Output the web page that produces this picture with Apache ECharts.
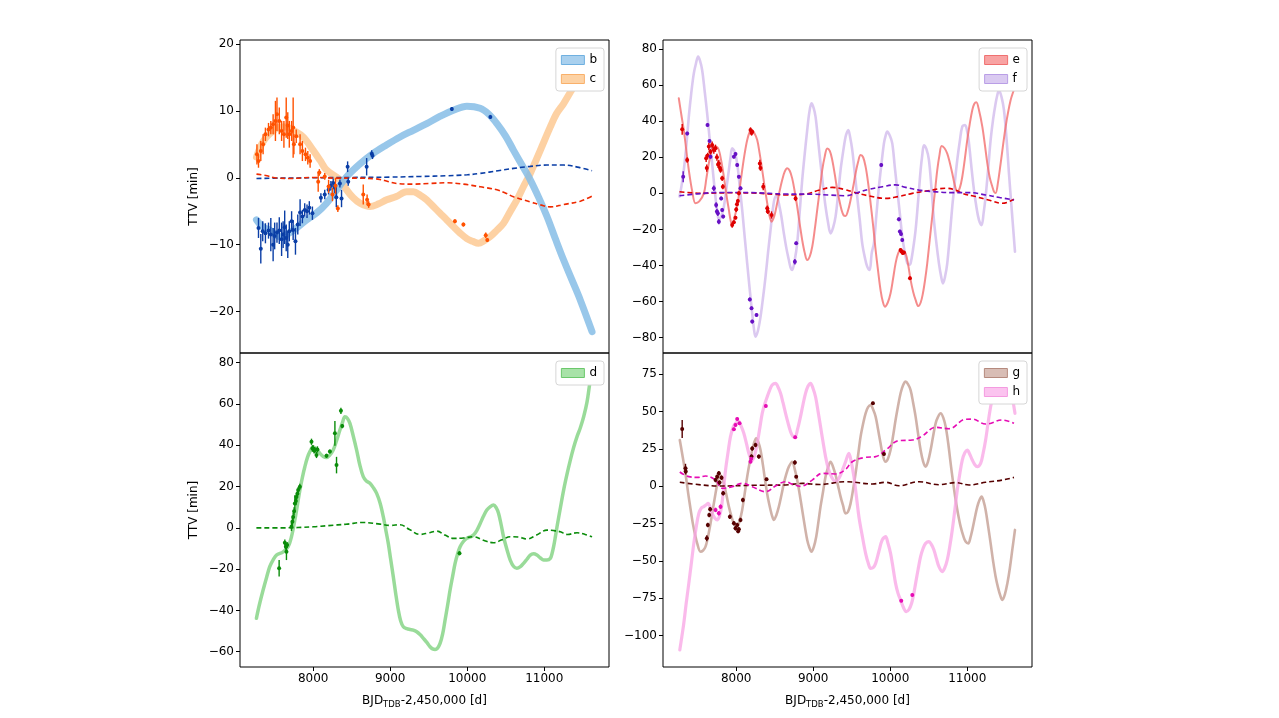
<!DOCTYPE html>
<html><head><meta charset="utf-8">
<script src="https://cdn.jsdelivr.net/npm/echarts@6/dist/echarts.min.js"></script>
<style>html,body{margin:0;padding:0;background:#fff}#c{width:1279px;height:718px}</style>
</head><body><div id="c"></div>
<script>
// ---------- tick labels ----------
const xTicks = [8000, 9000, 10000, 11000];
const yTicksBC = [-20, -10, 0, 10, 20];
const yTicksEF = [-80, -60, -40, -20, 0, 20, 40, 60, 80];
const yTicksD = [-60, -40, -20, 0, 20, 40, 60, 80];
const yTicksGH = [-100, -75, -50, -25, 0, 25, 50, 75];
const legendBC = ['b', 'c'];
const legendD = ['d'];
const legendEF = ['e', 'f'];
const legendGH = ['g', 'h'];

// ---------- model bands [x, TTV] ----------
const bandB = [[7264,-6.3],[7350,-7.4],[7437,-7.8],[7567,-8.8],[7700,-8.2],[7914,-6.3],[8050,-5.2],[8174,-3.8],[8300,-1.9],[8434,0.15],[8600,2.0],[8780,3.65],[8950,4.9],[9127,6.1],[9300,7.1],[9474,8.1],[9650,9.2],[9820,10.1],[9995,10.7],[10168,10.4],[10280,9.5],[10385,8.1],[10500,6.2],[10601,4.1],[10710,1.9],[10818,-0.3],[10930,-3.0],[11035,-5.8],[11140,-9.0],[11251,-12.3],[11360,-15.3],[11468,-18.3],[11620,-23.0]];
const bandC = [[7264,3.1],[7330,5.0],[7394,6.1],[7480,7.0],[7567,7.6],[7650,7.6],[7740,7.1],[7870,6.1],[8000,4.1],[8090,2.6],[8174,1.15],[8347,-0.3],[8434,-1.8],[8520,-3.0],[8607,-3.8],[8737,-4.3],[8850,-3.9],[8954,-3.3],[9080,-2.8],[9214,-2.1],[9300,-2.1],[9390,-2.6],[9474,-3.3],[9560,-4.3],[9647,-5.3],[9735,-6.3],[9820,-7.3],[9910,-8.3],[9995,-9.1],[10070,-9.5],[10146,-9.8],[10220,-9.4],[10298,-8.8],[10380,-7.9],[10471,-6.8],[10560,-5.0],[10645,-3.3],[10730,-1.3],[10818,0.65],[10948,4.1],[11078,7.6],[11160,9.6],[11251,11.1],[11360,13.2],[11468,15.1],[11620,18.1]];
const bandD = [[7263,-43.8],[7300,-37.5],[7350,-30.1],[7395,-24],[7436,-18.8],[7480,-15.5],[7523,-13.2],[7610,-11.6],[7675,-9.1],[7718,-4.3],[7762,3.8],[7795,11],[7827,18.3],[7860,24.5],[7892,29.6],[7925,34],[7957,36.9],[8000,39.3],[8040,38.2],[8087,36.1],[8130,34.6],[8173,34.1],[8215,35.2],[8260,37.7],[8300,41.8],[8347,47.4],[8380,51],[8412,53.8],[8445,53],[8477,50.6],[8520,44.5],[8564,37.7],[8605,30.5],[8650,24.8],[8690,22.7],[8737,21.6],[8780,19.5],[8824,16.7],[8870,11.8],[8910,5.4],[8940,-0.5],[8975,-7.5],[9005,-15],[9040,-23.7],[9070,-31.5],[9105,-39.8],[9135,-45],[9170,-47.9],[9215,-48.8],[9257,-49.2],[9300,-49.5],[9344,-50.3],[9390,-51.8],[9430,-53.5],[9475,-55.5],[9517,-57.6],[9550,-58.6],[9582,-58.9],[9615,-58.2],[9647,-56],[9680,-51.5],[9712,-44.7],[9745,-37.5],[9777,-30.1],[9810,-23.5],[9842,-17.2],[9875,-12.5],[9907,-9.1],[9950,-6.6],[9994,-5.1],[10040,-4.4],[10081,-3.5],[10125,-1.2],[10168,2.1],[10210,5.6],[10254,8.6],[10300,10.3],[10341,11.1],[10375,9.8],[10406,7.1],[10440,1.5],[10471,-4.3],[10515,-10.5],[10558,-15.6],[10600,-18.6],[10644,-19.6],[10690,-18.8],[10731,-17.2],[10775,-15.2],[10818,-13.2],[10860,-12.6],[10904,-13.2],[10950,-14.6],[10991,-15.6],[11035,-15.6],[11078,-14.8],[11100,-12.5],[11121,-9.1],[11143,-4.5],[11165,0.5],[11208,9.5],[11251,18.3],[11295,26],[11338,32.8],[11380,38.8],[11425,44.2],[11468,48.5],[11511,53.8],[11555,61],[11598,71.6],[11620,74]];
const bandE = [[7255,52.7],[7290,43],[7320,35.1],[7355,23],[7385,12.9],[7430,1],[7472,-5.5],[7520,-4.5],[7580,0],[7612,8],[7645,16.6],[7678,23],[7710,25.9],[7745,25.8],[7775,24],[7808,17.5],[7840,9.2],[7872,-0.5],[7905,-9.2],[7930,-15.5],[7948,-17.6],[7980,-13],[8013,-7.4],[8045,2.5],[8078,12.9],[8110,22],[8143,29.6],[8175,34],[8199,35.1],[8235,33.5],[8273,29.6],[8305,22],[8338,12.9],[8370,3.5],[8403,-5.5],[8430,-12],[8459,-15.7],[8495,-12.5],[8532,-5.5],[8565,1.5],[8597,7.4],[8630,12],[8662,13.9],[8695,12.5],[8727,8.3],[8760,1],[8792,-7.4],[8825,-17],[8857,-25.9],[8890,-33],[8922,-37],[8955,-35],[8987,-29.6],[9020,-20],[9052,-9.2],[9085,2],[9117,12.9],[9150,20.5],[9182,24.9],[9215,23.5],[9247,18.5],[9280,10.5],[9312,1.8],[9340,-4],[9368,-9.2],[9395,-12.2],[9420,-12.5],[9452,-9.5],[9485,-3.7],[9518,3.5],[9550,11.1],[9583,17.5],[9615,21.2],[9648,20],[9680,14.8],[9712,6],[9745,-5.5],[9778,-18],[9810,-31.4],[9842,-43],[9874,-53.6],[9903,-60],[9931,-62.8],[9968,-60.5],[10004,-55.4],[10036,-47.5],[10069,-38.8],[10100,-33.5],[10134,-31.4],[10165,-31.8],[10199,-33.3],[10232,-39.5],[10264,-48],[10297,-54.5],[10329,-59.1],[10364,-62.5],[10395,-60.5],[10424,-55.4],[10452,-48],[10480,-38.8],[10512,-26],[10545,-12.9],[10578,0],[10610,12.9],[10640,21.5],[10667,26.2],[10705,25],[10740,22],[10773,17],[10805,11.1],[10838,4.5],[10870,0.9],[10903,3],[10935,9.2],[10968,19],[11000,29.6],[11032,38.5],[11065,46.2],[11090,49.5],[11117,50.5],[11155,45.5],[11195,37],[11228,27],[11260,16.6],[11293,8.5],[11325,3.7],[11348,0.8],[11368,0.2],[11400,6.5],[11433,16.6],[11465,27],[11498,37],[11530,45],[11563,51.7],[11590,55.5],[11619,59.1]];
const bandF = [[7264,-1.8],[7290,4],[7320,12.9],[7352,26],[7385,42.5],[7418,56],[7450,66.5],[7478,72],[7506,75.8],[7530,73.5],[7558,68.4],[7590,57],[7623,44.3],[7656,30],[7688,16.6],[7715,4.5],[7740,-5.5],[7758,-11],[7775,-14.8],[7808,-12.5],[7840,-7.4],[7872,2.5],[7905,12.9],[7927,20],[7948,24.9],[7980,23],[8013,16.6],[8045,4],[8078,-9.2],[8110,-24],[8143,-38.8],[8175,-53],[8208,-66.5],[8230,-75],[8251,-79.4],[8283,-76],[8316,-68.4],[8348,-58],[8381,-46.2],[8413,-33],[8446,-20.3],[8478,-8],[8511,-1.8],[8532,-2],[8554,-5.5],[8587,-13],[8619,-22.2],[8652,-30.5],[8684,-37],[8705,-41],[8727,-42.5],[8760,-37],[8792,-27.7],[8825,-10],[8857,7.4],[8890,22],[8922,35.1],[8950,45],[8978,49.9],[9004,47.5],[9030,42.5],[9062,30],[9095,16.6],[9128,4],[9160,-7.4],[9192,-16],[9225,-22.2],[9258,-19],[9290,-12.9],[9322,-1],[9355,12.9],[9388,23],[9420,31.4],[9440,34],[9455,35.1],[9480,31],[9507,24],[9540,11],[9571,-1.8],[9605,-15],[9636,-27.7],[9670,-35.5],[9701,-40.6],[9732,-42.5],[9760,-33],[9788,-27.7],[9820,-12],[9853,3.7],[9885,16],[9918,27.7],[9940,32],[9961,34.2],[9994,32],[10026,27.7],[10058,15],[10091,1.8],[10124,-11],[10156,-24],[10190,-33],[10221,-38.8],[10245,-39.5],[10264,-38.8],[10296,-31],[10329,-20.3],[10362,-4],[10394,12.9],[10415,21],[10437,26.7],[10470,24.5],[10502,18.5],[10535,3],[10567,-14.8],[10600,-28],[10632,-38.8],[10660,-46],[10684,-49.9],[10712,-46],[10740,-38.8],[10772,-24],[10805,-7.4],[10838,6],[10870,18.5],[10903,29],[10935,37],[10970,37.9],[11000,34],[11022,27.7],[11055,14],[11087,1.8],[11120,-8],[11152,-14.8],[11186,-17.6],[11212,-11],[11238,-1.8],[11270,13],[11303,29.6],[11335,41],[11368,49.9],[11390,54.5],[11411,57.3],[11444,53.5],[11476,46.2],[11510,30],[11541,11.1],[11575,-8],[11619,-32.3]];
const bandG = [[7268,31],[7295,23],[7320,15.4],[7350,5.5],[7377,-4.7],[7407,-15],[7437,-24.8],[7465,-32],[7494,-38.2],[7537,-43.8],[7570,-43],[7602,-40.4],[7635,-33.5],[7667,-24.8],[7700,-14.5],[7732,-4.7],[7760,3],[7784,7.6],[7810,6.5],[7840,2],[7872,-5.5],[7905,-13.6],[7938,-20],[7970,-24.8],[8013,-27],[8045,-23],[8078,-15.8],[8110,-5],[8143,6.5],[8175,16],[8208,24.3],[8235,29.5],[8260,32.1],[8288,29.5],[8316,24.3],[8348,14],[8381,2],[8413,-8],[8446,-15.8],[8467,-20],[8489,-22.5],[8520,-19.5],[8554,-13.6],[8587,-6],[8619,2],[8652,8.5],[8684,13.2],[8727,16.5],[8760,11.5],[8792,4.2],[8825,-5.5],[8857,-15.8],[8890,-26.5],[8922,-35.9],[8950,-41],[8978,-43.8],[9008,-40.5],[9039,-33.7],[9067,-24],[9095,-13.6],[9128,-3.5],[9160,6.5],[9192,12.5],[9225,16.5],[9258,13],[9290,7.6],[9322,0.5],[9355,-6.9],[9388,-13],[9420,-18.1],[9452,-17],[9485,-11.4],[9518,-2],[9550,8.7],[9583,21],[9615,33.3],[9648,42],[9680,48.9],[9712,53],[9745,54.5],[9778,51.5],[9810,46.7],[9842,38],[9874,28.8],[9905,20.5],[9939,16.5],[9970,18.5],[10004,24.3],[10036,33.5],[10069,44.4],[10100,53.5],[10134,62.3],[10165,67.5],[10199,70.1],[10230,68.5],[10264,64.5],[10297,56],[10329,46.7],[10362,35],[10394,24.3],[10427,16.5],[10459,13.2],[10490,16.5],[10524,24.3],[10556,33.5],[10589,42.2],[10620,46.5],[10654,48.9],[10688,46],[10719,40],[10752,29],[10784,15.4],[10815,3],[10849,-9.2],[10880,-18.5],[10914,-27],[10947,-33],[10978,-37],[11013,-38.2],[11040,-34.5],[11065,-29.2],[11098,-21],[11130,-13.6],[11160,-9],[11186,-6.9],[11212,-10],[11238,-15.8],[11270,-26.5],[11303,-38.2],[11335,-50],[11368,-60.5],[11400,-68],[11433,-73.9],[11455,-76.1],[11487,-72.5],[11520,-65],[11552,-55],[11584,-42.6],[11619,-29.2]];
const bandH = [[7268,-109.6],[7295,-100.5],[7320,-91.7],[7352,-78],[7385,-65],[7418,-51.5],[7450,-38.2],[7482,-27],[7515,-18.1],[7548,-14.5],[7580,-13.6],[7608,-12.5],[7636,-11.4],[7662,-14],[7688,-18.1],[7720,-21],[7753,-22.5],[7782,-20],[7810,-13.6],[7836,-2],[7862,11],[7895,23],[7926,33.3],[7960,39.5],[7991,42.2],[8035,43.3],[8067,40],[8099,35.5],[8132,29],[8164,22.1],[8186,19],[8208,17.6],[8240,21],[8273,28.8],[8305,38.5],[8338,48.9],[8370,55],[8403,60],[8435,64.5],[8467,67.9],[8511,69],[8543,66.5],[8576,62.3],[8608,56],[8641,48.9],[8673,42.5],[8706,36.6],[8735,33.5],[8762,32.8],[8798,38.5],[8835,46.7],[8868,55],[8900,62.3],[8932,67],[8965,69],[8998,65.5],[9030,60],[9062,50.5],[9095,40],[9128,29.5],[9160,19.9],[9192,12.5],[9225,7.6],[9258,4.5],[9290,3.1],[9322,4.5],[9355,7.6],[9388,12],[9420,16.5],[9463,22.1],[9495,16],[9528,6.5],[9560,-6.5],[9593,-20.3],[9636,-33],[9680,-44.9],[9712,-51],[9745,-54.9],[9778,-54.5],[9810,-51.6],[9853,-43.5],[9896,-35.9],[9939,-33.7],[9972,-38.5],[10004,-44.9],[10036,-54.5],[10069,-65],[10100,-71.5],[10134,-76.1],[10170,-81],[10208,-83.9],[10243,-82.5],[10277,-78.3],[10303,-72.5],[10329,-65],[10362,-55.5],[10394,-47.1],[10427,-41.5],[10459,-38.2],[10502,-37],[10535,-39],[10567,-42.6],[10600,-48.5],[10632,-53.8],[10675,-57.1],[10708,-54.5],[10740,-49.3],[10772,-40.5],[10805,-29.2],[10838,-16],[10870,-2.5],[10903,8.5],[10935,17.6],[10968,22.5],[11000,24.3],[11032,21.5],[11065,17.6],[11098,14.5],[11130,13.2],[11173,15.4],[11205,22],[11238,31],[11270,42.5],[11303,53.3],[11335,61],[11368,66.7],[11400,70.5],[11433,73.4],[11465,73.8],[11498,72.3],[11530,69],[11563,64.5],[11590,58],[11619,48.9]];

// ---------- dashed model lines ----------
const dashB = [[7264,-0.1],[7600,-0.05],[8000,0],[8500,0.05],[9000,0.1],[9400,0.2],[9733,0.3],[10000,0.45],[10168,0.65],[10400,1.05],[10601,1.4],[10818,1.7],[11035,1.9],[11251,1.9],[11450,1.55],[11620,1.05]];
const dashC = [[7264,0.55],[7400,0.3],[7500,0],[7700,-0.1],[8000,0.05],[8300,-0.05],[8600,-0.05],[8800,-0.15],[8867,-0.25],[8970,-0.55],[9084,-0.85],[9300,-0.95],[9500,-0.85],[9733,-0.75],[9950,-0.95],[10168,-1.35],[10385,-1.8],[10500,-2.3],[10601,-2.85],[10818,-3.6],[10950,-4.05],[11078,-4.35],[11251,-4.0],[11468,-3.5],[11620,-2.75]];
const dashD = [[7263,0],[7600,0],[8000,0.5],[8200,1.1],[8434,1.8],[8650,2.6],[8867,1.8],[9000,1.2],[9127,1.5],[9250,-0.8],[9387,-3.2],[9500,-2.4],[9604,-1.6],[9710,-3.5],[9820,-5.1],[9950,-4.9],[10081,-4.3],[10210,-6],[10341,-7.2],[10450,-5.8],[10558,-4.3],[10660,-4.4],[10774,-5.4],[10900,-3.5],[11035,-1.1],[11120,-1.3],[11208,-1.9],[11300,-3.2],[11425,-2.4],[11530,-3.2],[11620,-4.3]];
const dashE = [[7264,0.9],[7580,0],[7900,0.3],[8200,0.2],[8500,-0.6],[8641,-0.9],[8900,-0.4],[9080,1.8],[9247,3.3],[9400,2.2],[9507,0.9],[9700,-1.2],[9940,-2.8],[10100,-1.8],[10286,0],[10500,1.5],[10719,2.8],[10850,1.8],[10935,0],[11108,-1.8],[11300,-4],[11455,-5.5],[11606,-3.3]];
const dashF = [[7264,-1.3],[7500,-0.3],[7775,0.5],[8200,0.4],[8641,-0.4],[9000,-0.5],[9200,-0.9],[9420,-1.3],[9580,0.5],[9723,2.2],[9900,3.7],[10069,4.7],[10200,3.3],[10372,1.8],[10600,0.8],[10805,0.4],[11022,0.4],[11238,-0.9],[11420,-2.3],[11606,-3.7]];
const dashG = [[7268,2.7],[7560,0.9],[7775,0.2],[8208,0.7],[8641,0.9],[8857,2],[9080,1.2],[9420,3.1],[9770,1.6],[9939,2.7],[10112,0.4],[10372,3.1],[10632,1.1],[10849,2.5],[11022,0.9],[11238,2.7],[11455,4.2],[11606,6]];
const dashH = [[7268,9.6],[7385,6.5],[7500,6],[7602,6.9],[7732,4.2],[7818,-1.3],[7948,-0.2],[8078,2],[8208,-0.2],[8381,-3.6],[8511,0.2],[8641,3.1],[8727,1.5],[8835,0],[8987,4.2],[9117,8.7],[9290,8.3],[9420,11.4],[9507,16.5],[9680,19.4],[9810,19.9],[9940,24.3],[10112,30.6],[10286,31],[10416,33.7],[10589,39.5],[10762,38.6],[10978,44.9],[11065,45],[11238,41.7],[11455,44.4],[11606,42.2]];

// ---------- observed transits [x, TTV, err] ----------
const ptsB = [[7290,-7.5,1.5],[7320,-10.6,2.2],[7345,-8.0,1.5],[7380,-8.3,1.5],[7420,-7.9,1.2],[7450,-8.5,2.5],[7480,-10.0,2.5],[7500,-8.7,2],[7530,-8.2,1.5],[7560,-7.9,2],[7590,-9.2,2.5],[7610,-8.5,2],[7630,-7.4,2.5],[7650,-9.0,2],[7670,-10.0,2],[7690,-8.0,1.5],[7720,-6.5,1.5],[7740,-7.8,1.5],[7770,-9.5,2],[7800,-7.0,1.5],[7830,-5.2,2],[7860,-5.8,1],[7890,-4.8,1],[7920,-5.0,1],[7950,-4.5,1],[7990,-5.3,1],[8100,-3.0,0.7],[8150,-2.5,0.7],[8200,-1.8,0.7],[8230,-1.2,0.7],[8260,-0.8,0.7],[8280,-1.5,0.8],[8300,-2.9,1.5],[8347,-0.85,0.6],[8368,-3.1,1.3],[8447,1.65,0.8],[8455,-0.6,0.6],[8694,1.65,1.3],[8760,3.6,0.5],[8770,3.3,0.5],[9800,10.3,0.3],[10300,9.1,0.3]];
const ptsC = [[7270,3.5,1.5],[7290,2.5,1],[7320,4.0,1.5],[7350,5.0,1.5],[7380,6.5,1],[7420,7.2,1],[7450,7.5,1],[7480,8.0,1.5],[7510,8.5,3],[7530,9.5,2.5],[7560,8.5,2],[7590,7.0,1.5],[7620,6.5,2],[7650,9.0,3],[7670,7.8,2],[7690,6.5,2],[7720,7.0,1.5],[7740,7.5,4.5],[7750,5.0,1.5],[7780,6.2,1],[7830,5.0,1.5],[7860,4.0,1.5],[7900,3.5,1],[7930,3.0,1],[7960,2.5,1],[8065,-0.6,1.5],[8080,0.8,0.5],[8150,0.2,0.5],[8200,-1.3,1],[8250,-2.5,1],[8290,-1.2,1.2],[8320,-4.6,0.5],[8650,-2.5,1.5],[8700,-3.3,0.8],[8720,-4.0,0.5],[9840,-6.5,0.3],[9950,-7.0,0.3],[10240,-8.6,0.4],[10260,-9.3,0.3]];
const ptsD = [[7558,-19.6,4],[7632,-7.2,1.5],[7645,-9.1,1.5],[7653,-11.6,4],[7662,-8.3,1.5],[7718,0.5,2],[7730,3,2],[7740,5.3,2],[7752,8,2],[7762,11.8,4],[7775,13,2],[7783,15,1.5],[7795,16.5,1.5],[7805,18.3,1.5],[7827,19.9,1.5],[7978,41.7,1.5],[7990,38.5,1.5],[8000,38.5,1.5],[8012,37.5,1.5],[8022,37.7,1.5],[8043,35.3,1.5],[8055,38,1.5],[8173,34.9,1],[8217,37,1],[8282,45.8,6],[8303,30.4,4],[8360,56.7,1.5],[8377,49.3,1],[9899,-12.3,1]];
const ptsE = [[7299,35.5,3],[7364,18.5,1.5],[7610,19.4,2],[7618,14,2],[7630,21,1.5],[7645,25.9,2],[7665,23,1.5],[7688,26.8,2],[7710,24,2],[7731,25,2],[7750,20,2],[7765,16,2],[7775,16.6,2],[7790,14,1.5],[7797,12.9,1.5],[7818,8.3,1.5],[7827,3.7,1.5],[7948,-17.6,1.5],[7970,-16,1],[7991,-13.5,1],[8000,-8.9,1.5],[8010,-6,1],[8022,-4.2,1],[8035,0,1],[8186,35.1,1.5],[8200,33.5,1.5],[8208,34.2,1],[8307,16.6,2],[8315,14,1.5],[8351,3.7,2],[8403,-8.3,1.5],[8410,-10,1.5],[8459,-12,2],[8771,-2.8,1.5],[10134,-31.4,1],[10147,-32.3,1],[10162,-33,1],[10178,-32.8,1],[10256,-47.1,1]];
const ptsF = [[7312,9.2,3],[7364,33.2,1],[7628,37.9,1],[7654,29,1],[7667,20.3,1],[7710,2.8,1.5],[7740,-6.5,1.5],[7750,-10,1.5],[7762,-11.1,1.5],[7775,-15.7,1.5],[7805,-2.8,1],[7818,-9.2,1],[7831,-12.9,1],[7970,20.3,1],[7991,21.8,1],[8013,15.7,1],[8035,9.2,1],[8056,2.8,1],[8177,-58.8,1],[8199,-63.7,1],[8208,-71.1,1],[8264,-67.4,1],[8762,-37.9,1.5],[8779,-27.7,1],[9883,15.7,1],[10112,-14.4,1],[10125,-21.2,1],[10140,-22.5,1],[10156,-25.9,1]];
const ptsG = [[7299,38.4,6],[7342,12.1,3],[7345,10,2],[7619,-34.8,2],[7632,-25.9,1.5],[7650,-19.2,1.5],[7662,-15.4,1.5],[7732,4.2,1.5],[7753,6.5,1.5],[7775,8.7,1.5],[7784,2.5,1.5],[7810,5.8,1.5],[7831,-4.7,1.5],[7918,-20.3,1.5],[7970,-24.8,1.5],[7991,-28.1,1.5],[8013,-25.9,1.5],[8025,-30,1.5],[8035,-28.8,1.5],[8056,-22.5,1.5],[8087,-9.2,1.5],[8199,19.9,1.5],[8208,25.4,1.5],[8251,27.7,1.5],[8294,19.9,1.5],[8394,4.7,1],[8762,15.9,1.5],[8779,6.5,1],[9775,55.6,1],[9918,21.7,1]];
const ptsH = [[7732,-15.8,1.5],[7775,-18.1,1.5],[7797,-13.6,1.5],[7970,38.2,1],[7991,41.1,1],[8013,45.1,1],[8043,42.2,1],[8186,16.5,1],[8195,18.5,1],[8385,53.8,1],[8766,32.8,1],[10143,-76.6,1],[10286,-72.8,1]];

// ---------- helpers ----------
const FONT = 'DejaVu Sans';
const fmt = v => (v < 0 ? '\u2212' + (-v) : '' + v);
const X_MIN = 7050, X_MAX = 11840;

function xAxis(gi, showLabels) {
  return {
    type: 'value', gridIndex: gi, min: X_MIN, max: X_MAX,
    splitLine: { show: false }, axisLine: { show: false, onZero: false },
    axisTick: { show: showLabels, length: 4, lineStyle: { color: '#000' }, customValues: xTicks },
    axisLabel: { show: showLabels, color: '#000', fontFamily: FONT, fontSize: 12, margin: 6, customValues: xTicks, formatter: fmt },
    name: showLabels ? '{n|BJD}{s|TDB}{n|-2,450,000 [d]}' : '',
    nameLocation: 'middle', nameGap: 26,
    nameTextStyle: { rich: {
      n: { fontFamily: FONT, fontSize: 12, color: '#000', verticalAlign: 'middle', lineHeight: 16 },
      s: { fontFamily: FONT, fontSize: 8.5, color: '#000', verticalAlign: 'bottom', lineHeight: 12 }
    } }
  };
}
function yAxis(gi, min, max, ticks, withName) {
  return {
    type: 'value', gridIndex: gi, min: min, max: max,
    splitLine: { show: false }, axisLine: { show: false, onZero: false },
    axisTick: { show: true, length: 4, lineStyle: { color: '#000' }, customValues: ticks },
    axisLabel: { color: '#000', fontFamily: FONT, fontSize: 12, margin: 6, customValues: ticks, formatter: fmt },
    name: withName ? 'TTV [min]' : '', nameLocation: 'middle', nameGap: 40, nameRotate: 90,
    nameTextStyle: { fontFamily: FONT, fontSize: 12, color: '#000' }
  };
}
function band(name, data, gi, color, width, opacity) {
  return { name: name, type: 'line', xAxisIndex: gi, yAxisIndex: gi, data: data, smooth: 0.35,
    showSymbol: false, symbol: 'none', z: 2, silent: true,
    itemStyle: { color: color },
    lineStyle: { color: color, width: width, opacity: opacity, cap: 'round', join: 'round' } };
}
function dashed(data, gi, color) {
  return { type: 'line', xAxisIndex: gi, yAxisIndex: gi, data: data, smooth: 0.4,
    showSymbol: false, symbol: 'none', z: 4, silent: true,
    lineStyle: { color: color, width: 1.6, type: [5, 3] } };
}
function points(data, gi, color) {
  return { type: 'custom', xAxisIndex: gi, yAxisIndex: gi, data: data, z: 6, silent: true,
    renderItem: function (params, api) {
      const x = api.value(0), y = api.value(1), e = api.value(2);
      const p = api.coord([x, y]), p1 = api.coord([x, y - e]), p2 = api.coord([x, y + e]);
      return { type: 'group', children: [
        { type: 'line', shape: { x1: p1[0], y1: p1[1], x2: p2[0], y2: p2[1] }, style: { stroke: color, lineWidth: 1.4 } },
        { type: 'circle', shape: { cx: p[0], cy: p[1], r: 2 }, style: { fill: color } }
      ] };
    } };
}
function legend(names, styles, right, top) {
  return { data: names.map((n, i) => ({ name: n, icon: 'rect', itemStyle: styles[i] })),
    orient: 'vertical', right: right, top: top, selectedMode: false,
    itemWidth: 23, itemHeight: 9, itemGap: 5, itemTextGap: 10,
    padding: [5, 7, 5, 5], backgroundColor: '#fff', borderColor: '#d6d6d6', borderWidth: 1, borderRadius: 3,
    textStyle: { fontFamily: FONT, fontSize: 12, color: '#000', lineHeight: 14 } };
}

const C = {
  bBand: '#86bde6', bDark: '#0a3ea6',
  cBand: '#fdc68c', cDark: '#ff5200', cDash: '#ee2a00',
  dBand: '#8ed78e', dDark: '#0a8c0a',
  eBand: '#f26e6e', eDark: '#de0000',
  fBand: '#c7ace8', fDark: '#6710c4',
  gBand: '#c49f93', gDark: '#560000',
  hBand: '#f8a3e4', hDark: '#e60cb4'
};

const option = {
  animation: false,
  backgroundColor: '#fff',
  grid: [
    { left: 240, top: 40, width: 369, height: 313, show: true, borderColor: '#000', borderWidth: 1, backgroundColor: 'transparent' },
    { left: 240, top: 353, width: 369, height: 314, show: true, borderColor: '#000', borderWidth: 1, backgroundColor: 'transparent' },
    { left: 663, top: 40, width: 369, height: 313, show: true, borderColor: '#000', borderWidth: 1, backgroundColor: 'transparent' },
    { left: 663, top: 353, width: 369, height: 314, show: true, borderColor: '#000', borderWidth: 1, backgroundColor: 'transparent' }
  ],
  xAxis: [xAxis(0, false), xAxis(1, true), xAxis(2, false), xAxis(3, true)],
  yAxis: [
    yAxis(0, -26.2, 20.6, yTicksBC, true),
    yAxis(1, -67.4, 84.7, yTicksD, true),
    yAxis(2, -88.5, 85, yTicksEF, false),
    yAxis(3, -121, 89.3, yTicksGH, false)
  ],
  legend: [
    legend(legendBC, [{ color: '#a9d0ee', borderColor: '#6fb0e0', borderWidth: 1 }, { color: '#fdd2a4', borderColor: '#f9b06a', borderWidth: 1 }], 675, 48),
    legend(legendD, [{ color: '#a8e2a8', borderColor: '#6cc86c', borderWidth: 1 }], 675, 361),
    legend(legendEF, [{ color: '#f8a3a3', borderColor: '#f07070', borderWidth: 1 }, { color: '#dacaf1', borderColor: '#b99ee6', borderWidth: 1 }], 252, 48),
    legend(legendGH, [{ color: '#d8bdb5', borderColor: '#b58a7e', borderWidth: 1 }, { color: '#fbc3ef', borderColor: '#f49be0', borderWidth: 1 }], 252, 361)
  ],
  series: [
    band('c', bandC, 0, C.cBand, 7, 0.8),
    band('b', bandB, 0, C.bBand, 7, 0.85),
    dashed(dashB, 0, C.bDark),
    dashed(dashC, 0, C.cDash),
    points(ptsB, 0, C.bDark),
    points(ptsC, 0, C.cDark),

    band('d', bandD, 1, C.dBand, 3.5, 0.9),
    dashed(dashD, 1, C.dDark),
    points(ptsD, 1, C.dDark),

    band('f', bandF, 2, C.fBand, 2.6, 0.65),
    band('e', bandE, 2, C.eBand, 2, 0.8),
    dashed(dashE, 2, C.eDark),
    dashed(dashF, 2, C.fDark),
    points(ptsE, 2, C.eDark),
    points(ptsF, 2, C.fDark),

    band('g', bandG, 3, C.gBand, 2.6, 0.8),
    band('h', bandH, 3, C.hBand, 3.2, 0.75),
    dashed(dashG, 3, C.gDark),
    dashed(dashH, 3, C.hDark),
    points(ptsG, 3, C.gDark),
    points(ptsH, 3, C.hDark)
  ]
};
const chart = echarts.init(document.getElementById('c'), null, { renderer: 'canvas' });
chart.setOption(option);
</script></body></html>
